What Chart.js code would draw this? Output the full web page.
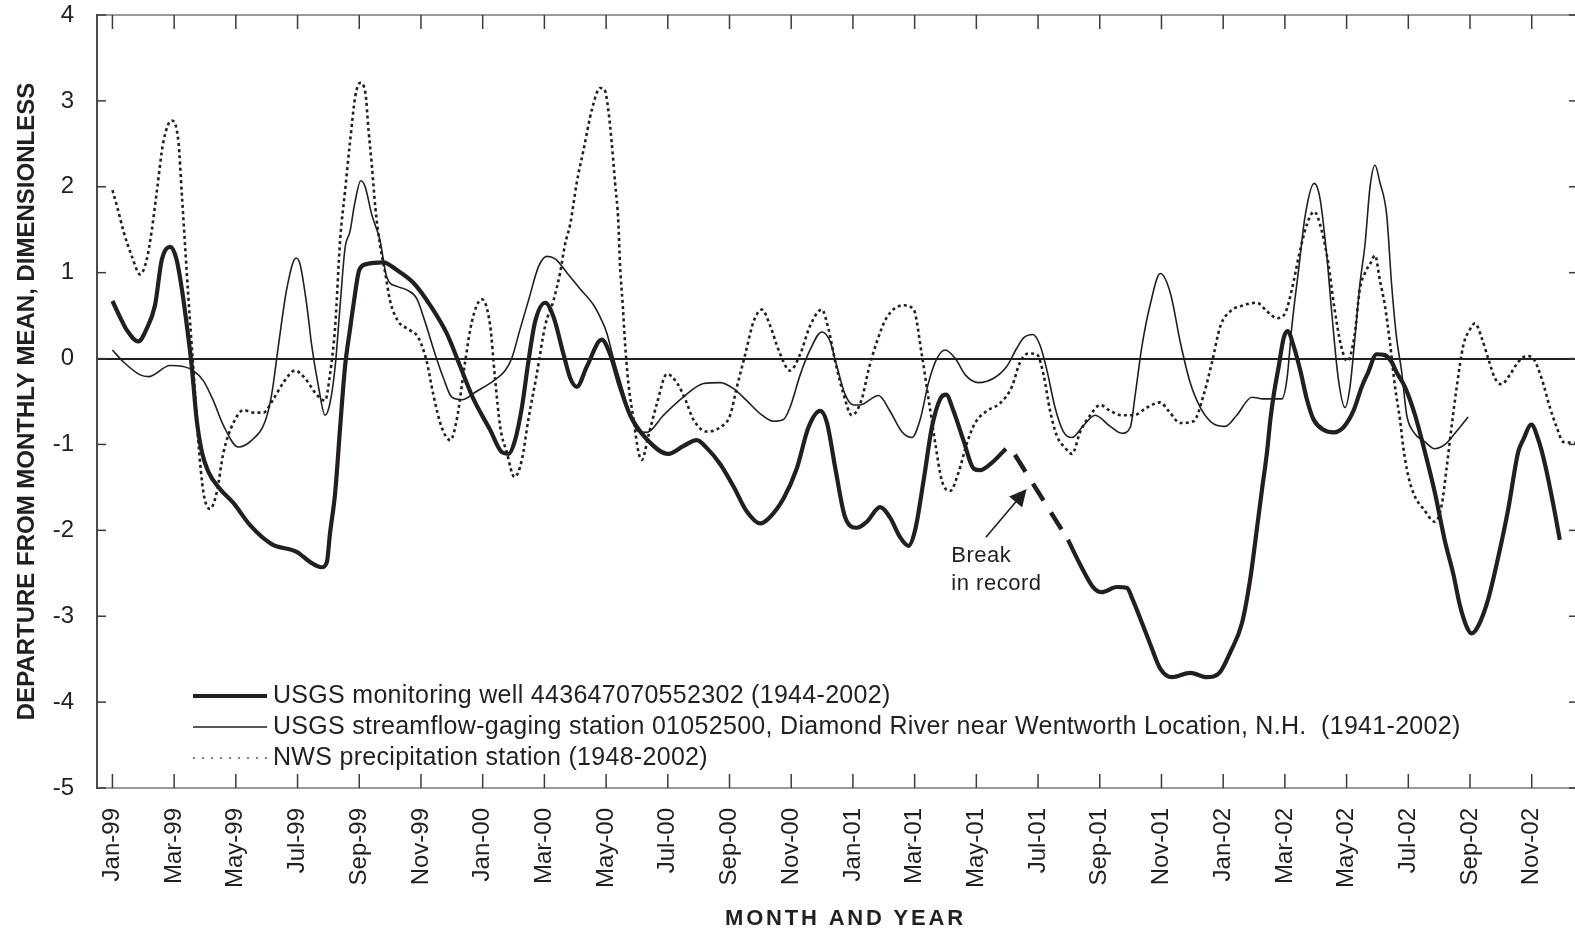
<!DOCTYPE html>
<html>
<head>
<meta charset="utf-8">
<script src="https://cdn.jsdelivr.net/npm/chart.js@4"></script>
<style>
html,body{margin:0;padding:0;background:#fff;overflow:hidden;}
</style>
</head>
<body>
<canvas id="chart" width="1580" height="932"></canvas>
<script>
// x values are months after Jan-99 (0 = Jan-99)
const tickMonths = [0,2,4,6,8,10,12,14,16,18,20,22,24,26,28,30,32,34,36,38,40,42,44,46];
const tickLabels = ['Jan-99','Mar-99','May-99','Jul-99','Sep-99','Nov-99',
                    'Jan-00','Mar-00','May-00','Jul-00','Sep-00','Nov-00',
                    'Jan-01','Mar-01','May-01','Jul-01','Sep-01','Nov-01',
                    'Jan-02','Mar-02','May-02','Jul-02','Sep-02','Nov-02'];

// USGS monitoring well, before the break in record
const wellAMonths = [0,0.25,0.45,0.84,1.1,1.38,1.6,1.89,2.08,2.25,2.41,2.57,2.73,2.9,3.11,3.49,3.92,4.46,5.16,5.97,6.41,6.78,6.95,7.05,7.22,7.38,7.54,7.7,7.81,8.0,8.24,8.78,9.22,9.76,10.3,10.84,11.27,11.7,12.24,12.62,12.84,13.05,13.27,13.48,13.7,14.03,14.3,14.62,14.84,15.05,15.38,15.86,16.13,16.45,16.78,17.32,18.02,18.5,18.94,19.26,19.7,20.13,20.56,21.0,21.3,21.75,22.18,22.56,22.94,23.16,23.43,23.75,24.13,24.45,24.88,25.2,25.53,25.8,26.02,26.29,26.56,26.83,27.02,27.26,27.58,27.91,28.12,28.45,28.96];
const wellAValues = [0.67,0.48,0.34,0.2,0.34,0.62,1.15,1.3,1.15,0.81,0.39,-0.09,-0.71,-1.09,-1.32,-1.52,-1.68,-1.94,-2.16,-2.25,-2.37,-2.43,-2.37,-2.04,-1.56,-0.8,-0.09,0.34,0.62,1.03,1.1,1.12,1.03,0.88,0.62,0.29,-0.09,-0.47,-0.83,-1.09,-1.11,-0.95,-0.57,-0.04,0.43,0.65,0.48,0.05,-0.23,-0.33,-0.09,0.22,0.05,-0.33,-0.66,-0.94,-1.11,-1.02,-0.95,-1.04,-1.23,-1.49,-1.78,-1.92,-1.85,-1.63,-1.28,-0.8,-0.61,-0.75,-1.28,-1.85,-1.97,-1.9,-1.73,-1.85,-2.08,-2.18,-1.99,-1.42,-0.8,-0.47,-0.42,-0.61,-0.95,-1.28,-1.3,-1.23,-1.05];
// USGS monitoring well, after the break
const wellBMonths = [30.97,31.41,31.78,32.07,32.55,32.88,33.07,33.37,33.63,33.96,34.34,34.93,35.47,35.9,36.23,36.61,36.88,37.09,37.26,37.42,37.53,37.64,37.8,37.96,38.09,38.28,38.5,38.71,38.93,39.25,39.58,39.9,40.22,40.49,40.7,40.97,41.24,41.46,41.62,41.89,42.22,42.54,42.86,43.19,43.46,43.67,43.9,44.05,44.27,44.59,44.91,45.24,45.56,45.73,45.99,46.21,46.43,46.7,46.91];
const wellBValues = [-2.11,-2.43,-2.66,-2.72,-2.66,-2.67,-2.81,-3.08,-3.32,-3.61,-3.71,-3.66,-3.71,-3.65,-3.42,-3.08,-2.56,-1.99,-1.52,-1.09,-0.71,-0.42,-0.09,0.24,0.32,0.15,-0.14,-0.47,-0.71,-0.83,-0.86,-0.8,-0.61,-0.33,-0.16,0.05,0.04,-0.04,-0.16,-0.33,-0.66,-1.09,-1.56,-2.13,-2.51,-2.87,-3.13,-3.2,-3.11,-2.8,-2.32,-1.75,-1.09,-0.94,-0.77,-0.94,-1.23,-1.7,-2.11];
// dashed line across the break
const breakMonths = [29.25,30.97];
const breakValues = [-1.12,-2.11];

// USGS streamflow-gaging station 01052500
const flowMonths = [0,0.36,0.9,1.17,1.87,2.25,2.62,2.95,3.27,3.6,4.08,4.52,4.95,5.16,5.38,5.65,5.95,6.08,6.3,6.46,6.68,6.89,7.05,7.22,7.38,7.54,7.7,7.85,8.05,8.19,8.41,8.67,8.89,9.22,9.54,9.86,10.13,10.46,10.73,11.0,11.32,11.81,12.35,12.73,12.94,13.21,13.48,13.81,14.08,14.35,14.73,15.16,15.6,15.85,16.02,16.24,16.51,16.78,17.05,17.32,17.86,18.5,19.16,19.7,20.13,20.56,20.99,21.43,21.75,21.96,22.29,22.61,22.99,23.26,23.48,23.75,24.02,24.23,24.83,25.2,25.58,25.91,26.18,26.45,26.72,26.99,27.32,27.64,28.07,28.56,28.99,29.31,29.53,29.83,30.07,30.29,30.55,30.82,31.1,31.47,31.85,32.34,32.72,32.99,33.15,33.37,33.63,33.96,34.29,34.61,34.93,35.26,35.69,36.07,36.44,36.93,37.3,37.9,38.07,38.23,38.45,38.66,38.95,39.14,39.36,39.52,39.73,39.95,40.11,40.27,40.43,40.6,40.76,40.92,41.08,41.3,41.46,41.62,41.78,41.95,42.16,42.54,42.86,43.19,43.51,43.94];
const flowValues = [0.1,-0.04,-0.19,-0.21,-0.08,-0.09,-0.14,-0.26,-0.49,-0.78,-1.03,-0.95,-0.73,-0.42,0.15,0.81,1.17,1.1,0.62,0.15,-0.33,-0.66,-0.52,-0.09,0.62,1.29,1.48,1.8,2.07,2.0,1.67,1.38,0.95,0.84,0.8,0.7,0.43,0.05,-0.23,-0.45,-0.48,-0.38,-0.26,-0.14,0.0,0.34,0.67,1.07,1.19,1.16,1.0,0.81,0.62,0.45,0.3,0.0,-0.33,-0.66,-0.85,-0.86,-0.66,-0.45,-0.29,-0.28,-0.35,-0.49,-0.64,-0.73,-0.71,-0.57,-0.19,0.1,0.31,0.2,-0.09,-0.42,-0.54,-0.54,-0.43,-0.61,-0.85,-0.92,-0.71,-0.28,0.0,0.1,0.0,-0.19,-0.28,-0.23,-0.09,0.12,0.24,0.28,0.15,-0.14,-0.57,-0.85,-0.92,-0.78,-0.66,-0.79,-0.87,-0.8,-0.42,0.15,0.62,0.99,0.76,0.19,-0.28,-0.57,-0.76,-0.79,-0.66,-0.45,-0.47,-0.47,-0.23,0.39,1.05,1.67,2.04,1.86,1.19,0.53,-0.23,-0.57,-0.33,0.24,0.86,1.34,2.0,2.25,2.05,1.67,0.86,0.24,-0.14,-0.66,-0.85,-0.97,-1.05,-1.0,-0.87,-0.68];

// NWS precipitation station
const precipMonths = [0,0.16,0.36,0.63,0.9,1.11,1.27,1.44,1.65,1.92,2.14,2.25,2.35,2.46,2.57,2.68,2.78,2.95,3.16,3.38,3.6,3.92,4.25,4.57,4.89,5.22,5.54,5.92,6.24,6.62,6.89,7.05,7.22,7.38,7.54,7.7,7.87,8.03,8.2,8.3,8.41,8.52,8.67,8.84,9.0,9.27,9.6,9.92,10.19,10.4,10.67,10.95,11.16,11.43,11.65,11.97,12.24,12.4,12.57,12.78,13.03,13.27,13.48,13.75,14.03,14.29,14.51,14.67,14.84,15.05,15.27,15.54,15.81,15.95,16.07,16.18,16.29,16.4,16.45,16.54,16.62,16.72,16.89,17.05,17.16,17.37,17.65,17.97,18.29,18.56,18.83,19.26,19.7,20.02,20.24,20.51,20.78,21.05,21.32,21.59,21.96,22.29,22.61,22.99,23.21,23.43,23.7,23.96,24.29,24.5,24.77,25.1,25.64,25.97,26.23,26.45,26.67,26.88,27.15,27.42,27.69,27.96,28.34,28.77,29.15,29.42,29.69,29.96,30.18,30.39,30.61,30.88,31.1,31.37,31.69,32.02,32.34,32.72,33.1,33.53,33.96,34.23,34.61,35.04,35.37,35.64,35.91,36.23,36.66,37.09,37.42,37.74,38.01,38.23,38.45,38.72,38.95,39.2,39.41,39.6,39.82,40.02,40.25,40.43,40.6,40.76,40.92,41.08,41.24,41.4,41.57,41.73,41.84,42.0,42.22,42.49,42.86,43.08,43.24,43.4,43.57,43.78,44.0,44.16,44.38,44.59,44.81,45.02,45.29,45.56,45.83,46.05,46.32,46.59,46.81,47.02,47.4];
const precipValues = [1.96,1.76,1.48,1.19,0.98,1.15,1.48,1.95,2.52,2.77,2.52,1.91,1.34,0.72,0.15,-0.42,-0.95,-1.56,-1.75,-1.56,-1.09,-0.75,-0.6,-0.63,-0.63,-0.47,-0.28,-0.14,-0.23,-0.42,-0.49,-0.19,0.38,1.38,1.95,2.52,3.05,3.21,3.09,2.66,2.24,1.76,1.33,1.0,0.67,0.43,0.34,0.24,-0.04,-0.42,-0.8,-0.95,-0.71,-0.04,0.43,0.69,0.39,-0.23,-0.8,-1.09,-1.38,-1.18,-0.71,-0.19,0.39,0.67,1.0,1.33,1.57,2.05,2.43,2.9,3.15,3.13,2.9,2.52,2.05,1.57,1.1,0.62,0.15,-0.28,-0.71,-1.09,-1.18,-0.9,-0.52,-0.18,-0.28,-0.47,-0.71,-0.85,-0.8,-0.66,-0.33,0.05,0.43,0.57,0.38,0.1,-0.14,0.05,0.38,0.57,0.34,-0.04,-0.42,-0.66,-0.47,-0.14,0.19,0.48,0.62,0.57,0.05,-0.47,-0.99,-1.42,-1.54,-1.33,-0.99,-0.75,-0.61,-0.52,-0.33,-0.04,0.06,0.05,-0.19,-0.61,-0.9,-1.04,-1.11,-0.85,-0.66,-0.54,-0.61,-0.66,-0.66,-0.57,-0.51,-0.61,-0.75,-0.73,-0.42,-0.04,0.38,0.55,0.62,0.65,0.55,0.47,0.53,0.81,1.19,1.57,1.71,1.48,1.1,0.6,0.15,-0.03,0.25,0.81,1.0,1.1,1.2,0.91,0.62,0.2,-0.33,-0.71,-1.04,-1.37,-1.61,-1.75,-1.9,-1.71,-1.28,-0.8,-0.33,0.15,0.34,0.41,0.24,0.0,-0.23,-0.3,-0.19,-0.04,0.03,0.0,-0.23,-0.57,-0.8,-0.97,-0.98];

const legendItems = [
    {text:'USGS monitoring well 443647070552302 (1944-2002)', width:4, dash:[]},
    {text:'USGS streamflow-gaging station 01052500, Diamond River near Wentworth Location, N.H.  (1941-2002)', width:1.6, dash:[]},
    {text:'NWS precipitation station (1948-2002)', width:1.3, dash:[2,7]}
];
const noteLines = ['Break','in record'];
const noteAt = {x:27.19, y:-2.37};
const arrowTail = {x:28.31, y:-2.08};
const arrowTip = {x:29.63, y:-1.52};

const INK = '#231f20';
const pts = (xs, ys) => xs.map((v, i) => ({x:v, y:ys[i]}));

function seg(ctx, x1, y1, x2, y2){
    ctx.beginPath(); ctx.moveTo(x1, y1); ctx.lineTo(x2, y2); ctx.stroke();
}

const decorations = {
    id:'decorations',
    afterDatasetsDraw(chart){
        const {ctx, chartArea:a, scales:{x, y}} = chart;
        ctx.save();
        // frame
        ctx.lineWidth = 2;
        ctx.strokeStyle = '#9a9a9a';
        seg(ctx, a.left, a.top, a.right, a.top);
        seg(ctx, a.left, a.bottom, a.right, a.bottom);
        seg(ctx, a.right, a.top, a.right, a.bottom);
        ctx.strokeStyle = '#4a4a4a';
        seg(ctx, a.left, a.top - 1, a.left, a.bottom + 1);
        // inner tick marks
        ctx.lineWidth = 1.5;
        ctx.strokeStyle = '#3a3a3a';
        x.ticks.forEach(t => {
            const px = x.getPixelForValue(t.value);
            seg(ctx, px, a.bottom, px, a.bottom - 14);
            seg(ctx, px, a.top, px, a.top + 14);
        });
        y.ticks.forEach(t => {
            const py = y.getPixelForValue(t.value);
            seg(ctx, a.left, py, a.left + 9, py);
            seg(ctx, a.right - 9, py, a.right, py);
        });

        // legend
        ctx.font = '25px "Liberation Sans", Arial, sans-serif';
        ctx.letterSpacing = '0.3px';
        ctx.fillStyle = INK;
        ctx.textBaseline = 'middle';
        legendItems.forEach((it, i) => {
            const ly = a.top + 681 + i * 31;
            ctx.lineWidth = it.width;
            ctx.strokeStyle = i == 2 ? '#555' : INK;
            ctx.setLineDash(it.dash);
            seg(ctx, a.left + 96, ly, a.left + 170, ly);
            ctx.setLineDash([]);
            ctx.fillText(it.text, a.left + 176, ly);
        });

        // break-in-record note and arrow
        ctx.font = '22px "Liberation Sans", Arial, sans-serif';
        ctx.letterSpacing = '0.5px';
        ctx.textBaseline = 'alphabetic';
        const nx = x.getPixelForValue(noteAt.x), ny = y.getPixelForValue(noteAt.y);
        noteLines.forEach((s, i) => ctx.fillText(s, nx, ny + i * 28));
        const tx = x.getPixelForValue(arrowTail.x), ty = y.getPixelForValue(arrowTail.y);
        const hx = x.getPixelForValue(arrowTip.x), hy = y.getPixelForValue(arrowTip.y);
        const ang = Math.atan2(hy - ty, hx - tx);
        ctx.lineWidth = 1.6;
        ctx.strokeStyle = INK;
        seg(ctx, tx, ty, hx - 12 * Math.cos(ang), hy - 12 * Math.sin(ang));
        ctx.beginPath();
        ctx.moveTo(hx, hy);
        ctx.lineTo(hx - 17 * Math.cos(ang) + 8.5 * Math.sin(ang), hy - 17 * Math.sin(ang) - 8.5 * Math.cos(ang));
        ctx.lineTo(hx - 17 * Math.cos(ang) - 8.5 * Math.sin(ang), hy - 17 * Math.sin(ang) + 8.5 * Math.cos(ang));
        ctx.closePath();
        ctx.fill();

        // x axis title
        ctx.font = 'bold 22px "Liberation Sans", Arial, sans-serif';
        ctx.letterSpacing = '2.8px';
        ctx.textAlign = 'center';
        ctx.fillText('MONTH AND YEAR', (a.left + a.right) / 2 + 8, 925);
        ctx.restore();
    }
};

Chart.defaults.font.family = '"Liberation Sans", Arial, sans-serif';
Chart.defaults.color = INK;

const lineStyle = {pointRadius:0, fill:false, cubicInterpolationMode:'monotone', borderColor:INK};

new Chart(document.getElementById('chart').getContext('2d'), {
    type:'line',
    data:{
        datasets:[
            {...lineStyle, label:'precip', data:pts(precipMonths, precipValues), borderWidth:2.6, borderDash:[3,3.2]},
            {...lineStyle, label:'flow', data:pts(flowMonths, flowValues), borderWidth:1.6},
            {...lineStyle, label:'well', data:pts(wellAMonths, wellAValues), borderWidth:4.2},
            {...lineStyle, label:'well-b', data:pts(wellBMonths, wellBValues), borderWidth:4.2},
            {...lineStyle, label:'break', data:pts(breakMonths, breakValues), borderWidth:4.5, borderDash:[20,14], cubicInterpolationMode:'default', tension:0}
        ]
    },
    options:{
        responsive:false,
        animation:false,
        layout:{padding:{top:15, right:2, left:0, bottom:0}},
        plugins:{legend:{display:false}, tooltip:{enabled:false}},
        scales:{
            x:{
                type:'linear', min:-0.5, max:47.5,
                afterBuildTicks: s => { s.ticks = tickMonths.map(v => ({value:v})); },
                afterFit: s => { s.height = 144; s.paddingLeft = 0; s.paddingRight = 0; },
                grid:{display:false}, border:{display:false},
                ticks:{
                    autoSkip:false, minRotation:90, maxRotation:90, padding:12,
                    font:{size:24},
                    callback: v => tickLabels[tickMonths.indexOf(v)]
                }
            },
            y:{
                min:-5, max:4,
                afterFit: s => { s.width = 97; s.paddingTop = 0; s.paddingBottom = 0; },
                border:{display:false},
                grid:{drawTicks:false, lineWidth:2, color: c => c.tick.value === 0 ? INK : 'rgba(0,0,0,0)'},
                ticks:{stepSize:1, padding:23, font:{size:24}},
                title:{display:true, text:'DEPARTURE FROM MONTHLY MEAN, DIMENSIONLESS',
                       font:{size:24, weight:'bold'}, padding:{top:13, bottom:0}}
            }
        }
    },
    plugins:[decorations]
});
</script>
</body>
</html>
